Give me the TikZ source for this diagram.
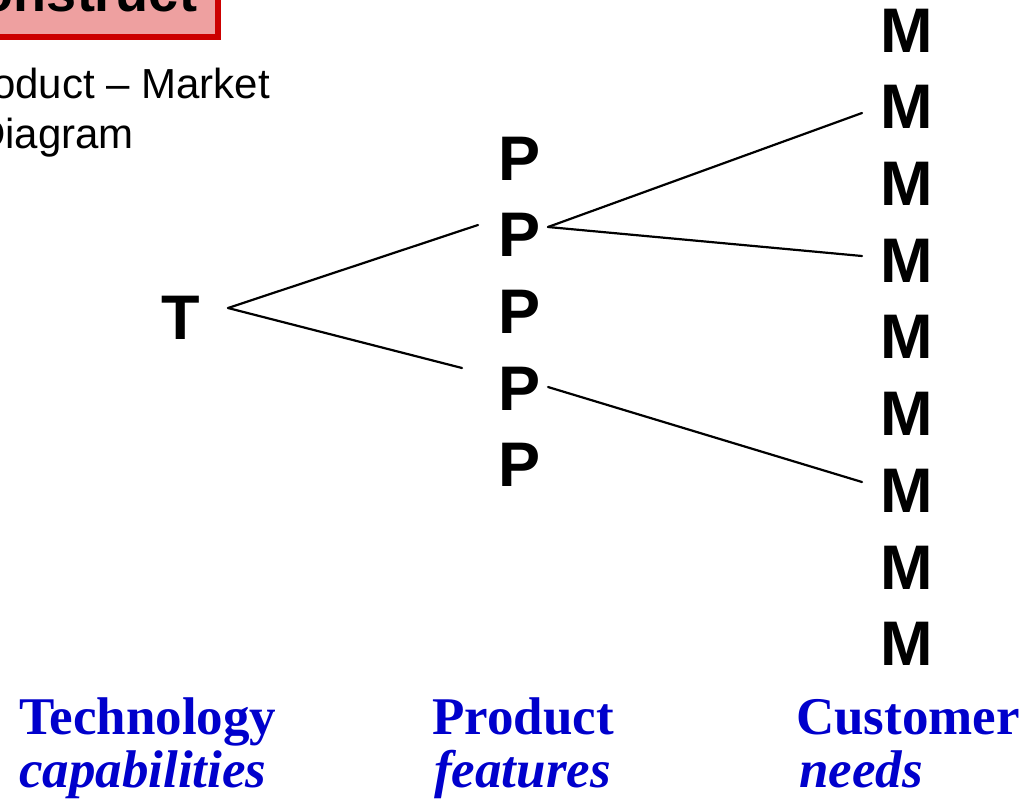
\documentclass[tikz,border=0pt]{standalone}
\usepackage{fontspec}
\setmainfont{Liberation Serif}
\setsansfont{Liberation Sans}
\begin{document}
\begin{tikzpicture}[x=1pt,y=-1pt,
  letter/.style={font=\sffamily\bfseries\fontsize{63}{76}\selectfont, inner sep=0pt, anchor=center},
  link/.style={line width=2.2pt, line cap=round},
  axislabel/.style={font=\rmfamily\bfseries\fontsize{53}{62}\selectfont, text=labelblue, inner sep=0pt, anchor=base west},
  axissub/.style={font=\rmfamily\bfseries\itshape\fontsize{53}{62}\selectfont, text=labelblue, inner sep=0pt, anchor=base west},
  titlebox/.style={font=\sffamily\bfseries\fontsize{54}{64}\selectfont, draw=titlered, fill=titlepink,
    line width=6pt, inner xsep=21pt, inner ysep=25pt, anchor=south east},
  caption/.style={font=\sffamily\fontsize{42}{50}\selectfont, inner sep=0pt}]
\definecolor{labelblue}{RGB}{0,0,204}
\definecolor{titlered}{RGB}{204,0,0}
\definecolor{titlepink}{RGB}{238,160,160}
\useasboundingbox (0,0) rectangle (1024,806);

% heading box and caption
\node[titlebox] (title) at (221,40) {Construct};
\node[caption, anchor=base east] (cap1) at (270,98) {Product -- Market};
\node[caption, anchor=base west] (cap2) at (-25,148) {Diagram};

% technology
\node[letter] (T) at (181,318) {T};

% product features
\foreach \i/\y in {1/158.5,2/235,3/312,4/388.5,5/465}
  \node[letter] (P\i) at (520,\y) {P};

% customer needs
\foreach \i in {1,...,9}
  \node[letter] (M\i) at (907,{30.5+76.7*(\i-1)}) {M};

% connector end points
\coordinate (T-out) at (228,308);
\coordinate (P2-in) at (478,225);
\coordinate (P4-in) at (462,368);
\coordinate (P2-out) at (548,227);
\coordinate (P4-out) at (548,387);
\coordinate (M2-in) at (862,113);
\coordinate (M4-in) at (862,256);
\coordinate (M7-in) at (862,482);

\draw[link] (T-out) -- (P2-in);
\draw[link] (T-out) -- (P4-in);
\draw[link] (P2-out) -- (M2-in);
\draw[link] (P2-out) -- (M4-in);
\draw[link] (P4-out) -- (M7-in);

% column labels
\node[axislabel] (tech) at (19,734) {Technology};
\node[axissub] (techsub) at (19,787) {capabilities};
\node[axislabel] (prod) at (432,734) {Product};
\node[axissub] (prodsub) at (434,787) {features};
\node[axislabel] (cust) at (796,734) {Customer};
\node[axissub] (custsub) at (799,787) {needs};
\end{tikzpicture}
\end{document}
